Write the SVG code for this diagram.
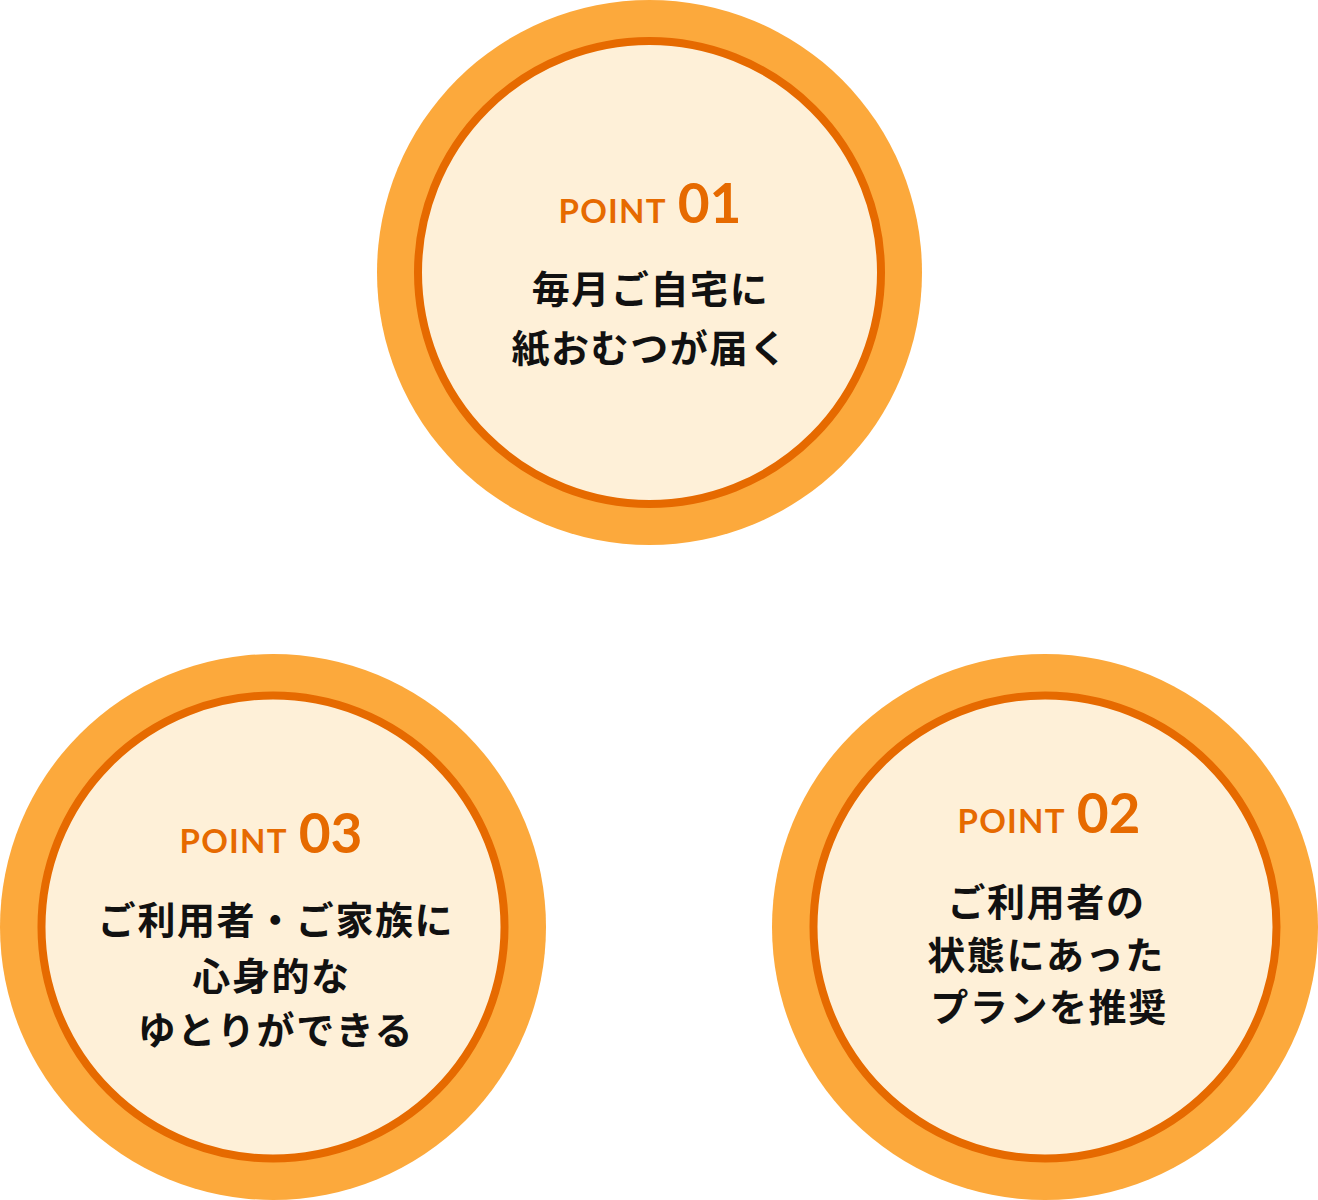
<svg xmlns="http://www.w3.org/2000/svg" width="1318" height="1200" viewBox="0 0 1318 1200">
<style>
.outer{fill:#FCA93C}
.inner{fill:#FEF0D8;stroke:#E66A00;stroke-width:8}
.pt{font-family:"Lato","Noto Sans",sans-serif;fill:#E66A00}
.pw{font-size:33px;font-weight:700;letter-spacing:1.2px}
.pn{font-size:55px;font-weight:700}
.jp{font-family:"Noto Sans CJK JP","Noto Sans",sans-serif;font-size:38px;font-weight:700;fill:#111;text-anchor:middle;letter-spacing:1.6px}
</style>
<rect width="1318" height="1200" fill="#fff"/>
<g id="point01">
<circle class="outer" cx="649.5" cy="272.5" r="272.5"/>
<circle class="inner" cx="649.5" cy="272.5" r="231.5"/>
<text class="pt" x="650" y="223" text-anchor="middle"><tspan class="pw">POINT</tspan><tspan class="pn" dx="11">01</tspan></text>
<text class="jp" x="650.5" y="303">毎月ご自宅に</text>
<text class="jp" x="650" y="362">紙おむつが届く</text>
</g>
<g id="point03">
<circle class="outer" cx="273" cy="927" r="273"/>
<circle class="inner" cx="273" cy="927" r="231.5"/>
<text class="pt" x="271" y="853" text-anchor="middle"><tspan class="pw">POINT</tspan><tspan class="pn" dx="11">03</tspan></text>
<text class="jp" x="276" y="934">ご利用者・ご家族に</text>
<text class="jp" x="271.5" y="990">心身的な</text>
<text class="jp" x="276" y="1044">ゆとりができる</text>
</g>
<g id="point02">
<circle class="outer" cx="1045" cy="927" r="273"/>
<circle class="inner" cx="1045" cy="927" r="231.5"/>
<text class="pt" x="1049" y="833" text-anchor="middle"><tspan class="pw">POINT</tspan><tspan class="pn" dx="11">02</tspan></text>
<text class="jp" x="1046.5" y="916">ご利用者の</text>
<text class="jp" x="1046" y="969">状態にあった</text>
<text class="jp" x="1049" y="1021">プランを推奨</text>
</g>
<g id="connectors"></g>
</svg>
